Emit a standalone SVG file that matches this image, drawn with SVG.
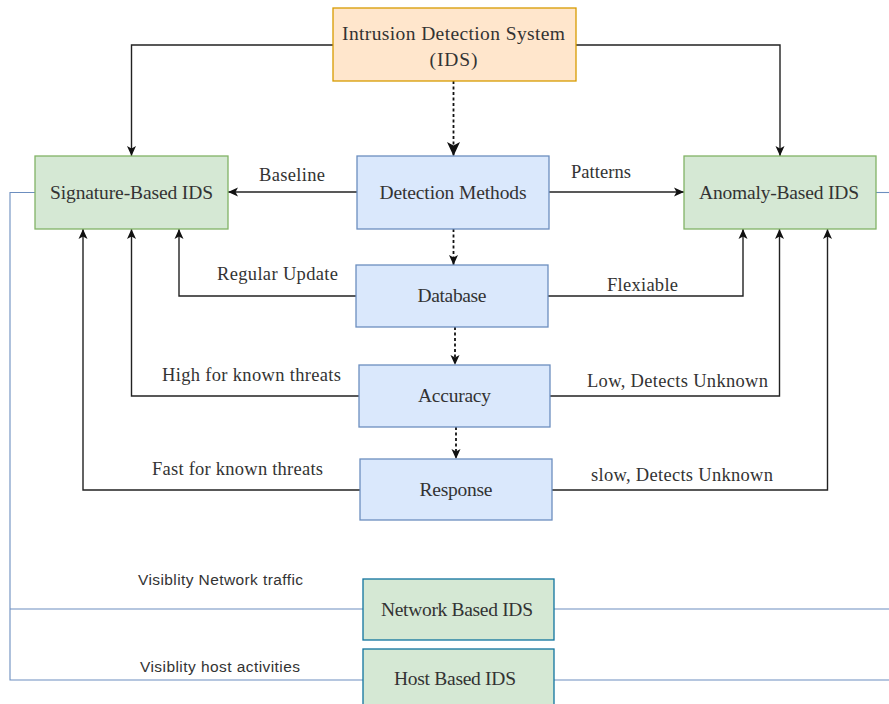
<svg xmlns="http://www.w3.org/2000/svg" width="889" height="704" viewBox="0 0 889 704">
  <style>
    .orange { fill: #ffe6cc; stroke: #d79b00; stroke-width: 1.3; }
    .green { fill: #d5e8d4; stroke: #82b366; stroke-width: 1.3; }
    .blue { fill: #dae8fc; stroke: #6c8ebf; stroke-width: 1.3; }
    .green2 { fill: #d5e8d4; stroke: #10739e; stroke-width: 1.3; }
    .node { font-family: "Liberation Serif", "Times New Roman", serif; font-size: 19.5px; fill: #333333; text-anchor: middle; }
    .elabel { font-family: "Liberation Serif", "Times New Roman", serif; font-size: 18.5px; fill: #333333; }
    .slabel { font-family: "Liberation Sans", Arial, sans-serif; font-size: 15.5px; fill: #333333; }
    .edge { fill: none; stroke: #222222; stroke-width: 1.4; }
    .dash { fill: none; stroke: #111111; stroke-width: 1.8; stroke-dasharray: 3 2.5; }
    .link { fill: none; stroke: #6c8ebf; stroke-width: 1.1; }
  </style>
  <defs>
    <marker id="arrow" markerUnits="userSpaceOnUse" markerWidth="12" markerHeight="12" viewBox="0 0 12 12" refX="11" refY="6" orient="auto">
      <path d="M1,1.5 L11,6 L1,10.5 L3.5,6 Z" fill="#111111"/>
    </marker>
    <marker id="arrowBig" markerUnits="userSpaceOnUse" markerWidth="16" markerHeight="16" viewBox="0 0 16 16" refX="15" refY="8" orient="auto">
      <path d="M1,1.5 L15,8 L1,14.5 L4.5,8 Z" fill="#111111"/>
    </marker>
  </defs>

  <rect width="889" height="704" fill="#ffffff"/>

  <!-- connectors -->
  <g id="connectors">
    <path class="edge" d="M333,45 H131.5 V156" marker-end="url(#arrow)"/>
    <path class="edge" d="M576,45 H780 V156" marker-end="url(#arrow)"/>
    <path class="edge" d="M357,192 H228" marker-end="url(#arrow)"/>
    <path class="edge" d="M549,192 H684" marker-end="url(#arrow)"/>
    <path class="edge" d="M356,296 H179 V229" marker-end="url(#arrow)"/>
    <path class="edge" d="M548,296 H743 V229" marker-end="url(#arrow)"/>
    <path class="edge" d="M359,396 H131.5 V229" marker-end="url(#arrow)"/>
    <path class="edge" d="M550,396 H779.5 V229" marker-end="url(#arrow)"/>
    <path class="edge" d="M360,490 H83 V229" marker-end="url(#arrow)"/>
    <path class="edge" d="M552,490 H827.5 V229" marker-end="url(#arrow)"/>

    <path class="dash" d="M453.5,81 V156" marker-end="url(#arrowBig)"/>
    <path class="dash" d="M453.5,229 V265" marker-end="url(#arrow)"/>
    <path class="dash" d="M455,327 V365" marker-end="url(#arrow)"/>
    <path class="dash" stroke-width="1.4" d="M456,427 V459" marker-end="url(#arrow)"/>

    <path class="link" d="M35,192.5 H10 V680 H363"/>
    <path class="link" d="M10,609 H363"/>
    <path class="link" d="M554,609 H889"/>
    <path class="link" d="M554,680 H889"/>
    <path class="link" d="M876,192.5 H889"/>

    <text class="elabel" x="259" y="181" textLength="66">Baseline</text>
    <text class="elabel" x="571" y="178" textLength="60">Patterns</text>
    <text class="elabel" x="217" y="280" textLength="121">Regular Update</text>
    <text class="elabel" x="607" y="291" textLength="71">Flexiable</text>
    <text class="elabel" x="162" y="381" textLength="179">High for known threats</text>
    <text class="elabel" x="587" y="387" textLength="181">Low, Detects Unknown</text>
    <text class="elabel" x="152" y="475" textLength="171">Fast for known threats</text>
    <text class="elabel" x="591" y="481" textLength="182">slow, Detects Unknown</text>
    <text class="slabel" x="138" y="585" textLength="165">Visiblity Network traffic</text>
    <text class="slabel" x="140" y="672" textLength="160">Visiblity host activities</text>
  </g>

  <!-- nodes -->
  <g id="ids">
    <rect class="orange" x="333" y="8" width="243" height="73"/>
    <text class="node" x="453.5" y="40" textLength="223">Intrusion Detection System</text>
    <text class="node" x="453.5" y="66" textLength="48">(IDS)</text>
  </g>
  <g id="signature">
    <rect class="green" x="35" y="156" width="193" height="73"/>
    <text class="node" x="131.5" y="199" textLength="163">Signature-Based IDS</text>
  </g>
  <g id="methods">
    <rect class="blue" x="357" y="156" width="192" height="73"/>
    <text class="node" x="453" y="199" textLength="147">Detection Methods</text>
  </g>
  <g id="anomaly">
    <rect class="green" x="684" y="156" width="192" height="73"/>
    <text class="node" x="779" y="199" textLength="160">Anomaly-Based IDS</text>
  </g>
  <g id="database">
    <rect class="blue" x="356" y="265" width="192" height="62"/>
    <text class="node" x="452" y="302" textLength="69">Database</text>
  </g>
  <g id="accuracy">
    <rect class="blue" x="359" y="365" width="191" height="62"/>
    <text class="node" x="454.5" y="402" textLength="73">Accuracy</text>
  </g>
  <g id="response">
    <rect class="blue" x="360" y="459" width="192" height="61"/>
    <text class="node" x="456" y="496" textLength="73">Response</text>
  </g>
  <g id="network">
    <rect class="green2" x="363" y="579" width="191" height="61"/>
    <text class="node" x="457" y="615.5" textLength="152">Network Based IDS</text>
  </g>
  <g id="host">
    <rect class="green2" x="363" y="649" width="191" height="62"/>
    <text class="node" x="455" y="685" textLength="122">Host Based IDS</text>
  </g>
</svg>
